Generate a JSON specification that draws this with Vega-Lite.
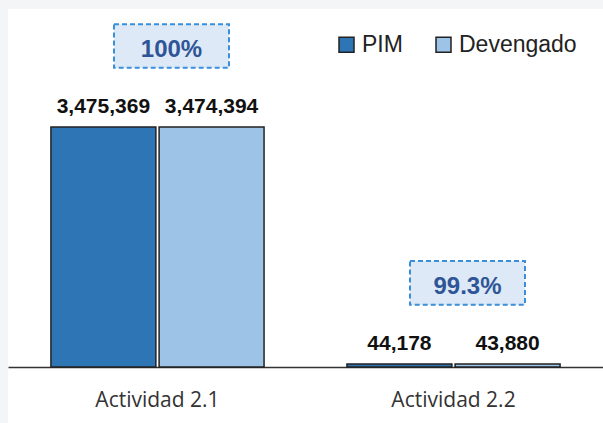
{
  "$schema": "https://vega.github.io/schema/vega-lite/v6.json",
  "width": 595,
  "height": 414,
  "autosize": {"type": "none"},
  "padding": {"left": 8, "top": 9, "right": 0, "bottom": 0},
  "background": "#f4f5f7",
  "config": {
    "view": {"fill": "white", "stroke": null},
    "font": "Liberation Sans"
  },
  "datasets": {
    "montos": [
      {"actividad": "Actividad 2.1", "tipo": "PIM", "monto": 3475369},
      {"actividad": "Actividad 2.1", "tipo": "Devengado", "monto": 3474394},
      {"actividad": "Actividad 2.2", "tipo": "PIM", "monto": 44178},
      {"actividad": "Actividad 2.2", "tipo": "Devengado", "monto": 43880}
    ],
    "avance": [
      {"actividad": "Actividad 2.1", "avance": "100%", "pim": 3475369},
      {"actividad": "Actividad 2.2", "avance": "99.3%", "pim": 44178}
    ]
  },
  "encoding": {
    "x": {
      "field": "actividad",
      "type": "nominal",
      "sort": ["Actividad 2.1", "Actividad 2.2"],
      "scale": {"paddingInner": 0.28, "paddingOuter": 0.145},
      "axis": {
        "title": null,
        "offset": -56,
        "ticks": false,
        "labelAngle": 0,
        "labelFont": "Open Sans",
        "labelFontSize": 21,
        "labelColor": "#333333",
        "labelPadding": 22,
        "domainColor": "#333333",
        "domainWidth": 1.5
      }
    },
    "y": {
      "type": "quantitative",
      "scale": {"domain": [-810919, 5184092], "nice": false, "zero": false},
      "axis": null
    }
  },
  "layer": [
    {
      "data": {"name": "montos"},
      "mark": {"type": "bar", "stroke": "#222222", "strokeWidth": 1.5},
      "encoding": {
        "y": {"field": "monto"},
        "xOffset": {"field": "tipo", "sort": ["PIM", "Devengado"], "scale": {"paddingInner": 0.03}},
        "color": {
          "field": "tipo",
          "type": "nominal",
          "sort": ["PIM", "Devengado"],
          "scale": {"domain": ["PIM", "Devengado"], "range": ["#2e75b6", "#9dc3e6"]},
          "legend": {
            "title": null,
            "orient": "none",
            "legendX": 327,
            "legendY": 24,
            "direction": "horizontal",
            "symbolType": "square",
            "symbolSize": 225,
            "symbolStrokeColor": "#222222",
            "symbolStrokeWidth": 1.5,
            "symbolOpacity": 1,
            "labelFont": "Liberation Sans",
            "labelFontSize": 23,
            "labelColor": "#222222",
            "labelOffset": 4,
            "columnPadding": 29
          }
        }
      }
    },
    {
      "data": {"name": "montos"},
      "mark": {
        "type": "text",
        "baseline": "alphabetic",
        "dy": -14,
        "font": "Liberation Sans",
        "fontWeight": "bold",
        "fontSize": 21,
        "color": "#111111"
      },
      "encoding": {
        "y": {"field": "monto"},
        "xOffset": {"field": "tipo", "sort": ["PIM", "Devengado"]},
        "text": {"field": "monto", "type": "quantitative", "format": ",.0f"}
      }
    },
    {
      "data": {"name": "avance"},
      "mark": {
        "type": "point",
        "shape": "M-1,-0.38H1V0.38H-1Z",
        "size": 13225,
        "filled": true,
        "fill": "#dde9f6",
        "opacity": 1,
        "stroke": "#3a8fd9",
        "strokeWidth": 2,
        "strokeDash": [5, 3],
        "xOffset": 14,
        "yOffset": -81
      },
      "encoding": {
        "y": {"field": "pim"}
      }
    },
    {
      "data": {"name": "avance"},
      "mark": {
        "type": "text",
        "baseline": "middle",
        "font": "Liberation Sans",
        "fontWeight": "bold",
        "fontSize": 24,
        "color": "#2f5597",
        "xOffset": 14,
        "yOffset": -77
      },
      "encoding": {
        "y": {"field": "pim"},
        "text": {"field": "avance"}
      }
    }
  ]
}
